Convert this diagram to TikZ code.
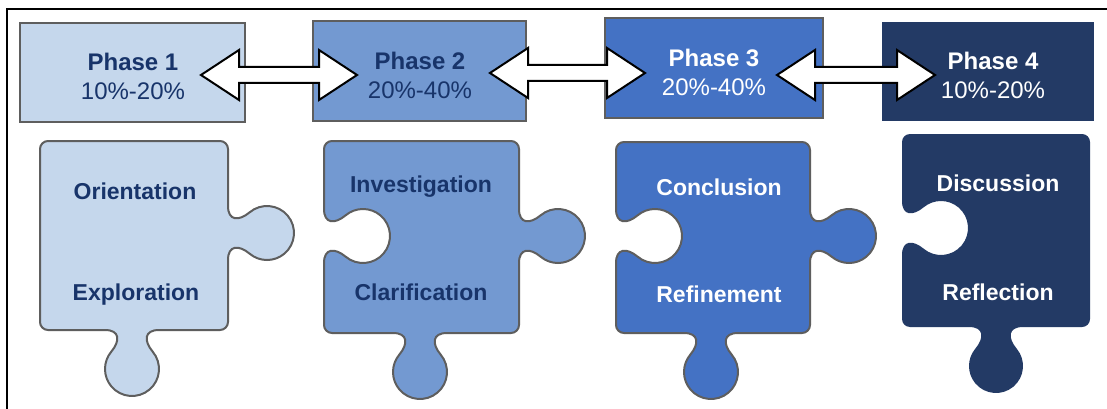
\documentclass[tikz,border=0pt]{standalone}
\usepackage{fontspec}
\setmainfont{Liberation Sans}
\usetikzlibrary{calc}
\definecolor{c1}{HTML}{C5D7EC}
\definecolor{c2}{HTML}{7399D1}
\definecolor{c3}{HTML}{4472C4}
\definecolor{c4}{HTML}{233A65}
\definecolor{navy}{HTML}{18346A}
\definecolor{edgegray}{HTML}{5E5E5E}

% right-side knob: right edge x, knob centre y
\newcommand\knobR[2]{-- (#1,#2-27) .. controls (#1,#2-12) and (#1+10.9,#2-11.7) .. (#1+21.64,#2-20.68) arc[start angle=230,end angle=490,radius=27] .. controls (#1+10.9,#2+11.7) and (#1,#2+12) .. (#1,#2+27)}
% bottom knob: knob centre x, bottom edge y
\newcommand\knobB[2]{-- (#1+27,#2) .. controls (#1+12,#2) and (#1+11.7,#2+10.9) .. (#1+20.68,#2+21.64) arc[start angle=320,end angle=580,radius=27] .. controls (#1-11.7,#2+10.9) and (#1-12,#2) .. (#1-27,#2)}
% left-side hole: left edge x, hole centre y
\newcommand\holeL[2]{-- (#1,#2+27) .. controls (#1,#2+12) and (#1+10.9,#2+11.7) .. (#1+21.64,#2+20.68) arc[start angle=130,end angle=-130,radius=27] .. controls (#1+10.9,#2-11.7) and (#1,#2-12) .. (#1,#2-27)}

\tikzset{
  phasebox/.style={draw=edgegray, line width=2pt, inner sep=0pt},
  phtext/.style={align=center, font=\fontsize{24}{29}\selectfont, inner sep=0pt},
  piecetext/.style={anchor=base, font=\fontsize{23}{28}\selectfont\bfseries, inner sep=0pt},
  puzzle/.style={draw=edgegray, line width=2pt, line join=round},
  blockarrow/.style={draw=black, fill=white, line width=2pt, line join=miter},
}

\begin{document}
\begin{tikzpicture}[x=1pt, y=-1pt]
\useasboundingbox (0,0) rectangle (1107,409);
\fill[white] (0,0) rectangle (1107,409);

% frame
\draw[line width=2.5pt] (7,409) -- (7,9) -- (1107,9);

% puzzle pieces
\path[puzzle, fill=c1] (40,149) arc[start angle=180,end angle=270,radius=8] -- (220,141) arc[start angle=270,end angle=360,radius=8] \knobR{228}{233} -- (228,322) arc[start angle=0,end angle=90,radius=8] \knobB{132}{330} -- (48,330) arc[start angle=90,end angle=180,radius=8] -- cycle;

\path[puzzle, fill=c2] (324,149) arc[start angle=180,end angle=270,radius=8] -- (511,141) arc[start angle=270,end angle=360,radius=8] \knobR{519}{236} -- (519,325) arc[start angle=0,end angle=90,radius=8] \knobB{420}{333} -- (332,333) arc[start angle=90,end angle=180,radius=8] \holeL{324}{236} -- cycle;

\path[puzzle, fill=c3] (616,150) arc[start angle=180,end angle=270,radius=8] -- (802,142) arc[start angle=270,end angle=360,radius=8] \knobR{810}{236} -- (810,325) arc[start angle=0,end angle=90,radius=8] \knobB{711}{333} -- (624,333) arc[start angle=90,end angle=180,radius=8] \holeL{616}{236} -- cycle;

\path[fill=c4] (902,142) arc[start angle=180,end angle=270,radius=8] -- (1082,134) arc[start angle=270,end angle=360,radius=8] -- (1090,319) arc[start angle=0,end angle=90,radius=8] \knobB{996}{327} -- (910,327) arc[start angle=90,end angle=180,radius=8] \holeL{902}{228} -- cycle;

% piece texts
\node[piecetext, text=navy] (o1) at (135,199) {Orientation};
\node[piecetext, text=navy] (e1) at (136,300) {Exploration};
\node[piecetext, text=navy] (i2) at (421,192) {Investigation};
\node[piecetext, text=navy] (c2t) at (421,300) {Clarification};
\node[piecetext, text=white] (c3t) at (719,195) {Conclusion};
\node[piecetext, text=white] (r3) at (719,302) {Refinement};
\node[piecetext, text=white] (d4) at (998,191) {Discussion};
\node[piecetext, text=white] (r4) at (998,300) {Reflection};

% phase boxes
\node[phasebox, fill=c1, minimum width=225pt, minimum height=99pt] (p1) at (132.5,72.5) {};
\node[phasebox, fill=c2, minimum width=213pt, minimum height=100pt] (p2) at (419.5,71) {};
\node[phasebox, fill=c3, minimum width=218pt, minimum height=100pt] (p3) at (714,68) {};
\node[phasebox, draw=c4, fill=c4, minimum width=210pt, minimum height=97pt] (p4) at (988,71.5) {};

\node[phtext, text=navy] (t1) at (133,76.5) {\textbf{Phase 1}\\10\%-20\%};
\node[phtext, text=navy] (t2) at (420,75) {\textbf{Phase 2}\\20\%-40\%};
\node[phtext, text=white] (t3) at (714,72) {\textbf{Phase 3}\\20\%-40\%};
\node[phtext, text=white] (t4) at (993,75) {\textbf{Phase 4}\\10\%-20\%};

% double block arrows
\coordinate (a1l) at (201,75);  \coordinate (a1r) at (357,75);
\coordinate (a2l) at (490,73);  \coordinate (a2r) at (645,73);
\coordinate (a3l) at (777,75);  \coordinate (a3r) at (935,75);
\foreach \l/\r in {a1l/a1r, a2l/a2r, a3l/a3r}{
  \draw[blockarrow] (\l) -- ++(38,-25) -- ++(0,17) -- ($(\r)+(-38,-8)$) -- ++(0,-17) -- (\r) -- ++(-38,25) -- ++(0,-17) -- ($(\l)+(38,8)$) -- ++(0,17) -- cycle;
}
\end{tikzpicture}
\end{document}
